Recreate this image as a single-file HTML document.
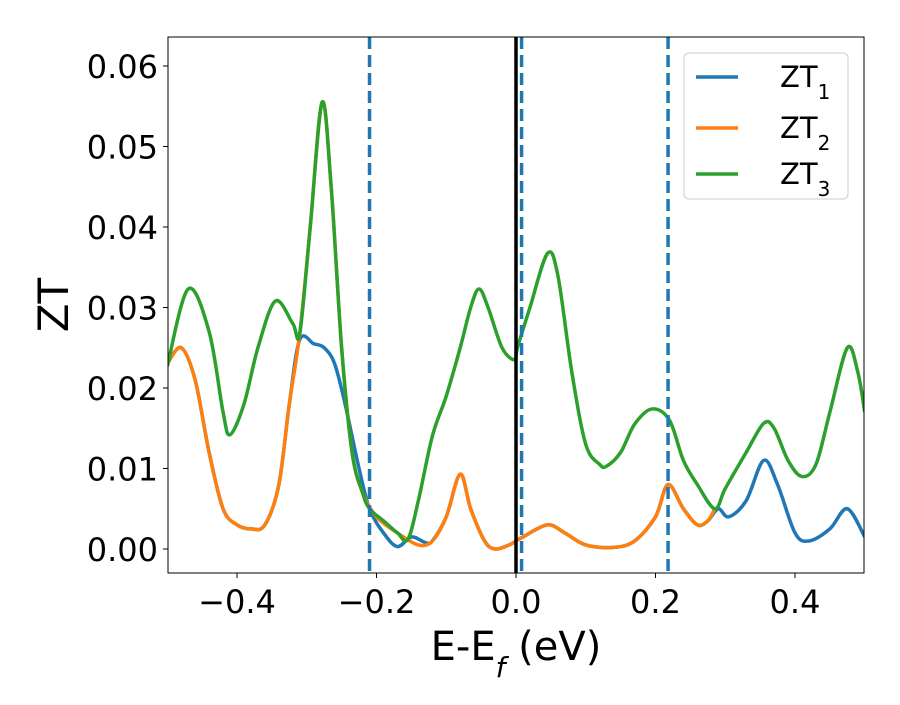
<!DOCTYPE html>
<html><head><meta charset="utf-8"><style>
body{margin:0;background:#fff}
svg text{font-family:"DejaVu Sans","Liberation Sans",sans-serif;fill:#000}
</style></head><body>
<svg id="chart" width="900" height="700">
<rect width="900" height="700" fill="#fff"/>
<g id="plot"></g>
</svg>
<script>
const xTicks=[-0.4,-0.2,0.0,0.2,0.4];
const xTickLabels=["\u22120.4","\u22120.2","0.0","0.2","0.4"];
const yTicks=[0,0.01,0.02,0.03,0.04,0.05,0.06];
const yTickLabels=["0.00","0.01","0.02","0.03","0.04","0.05","0.06"];
const dashedLines=[-0.21,0.008,0.218];
const fermiLine=0;
const ztx1=[-0.5,-0.48,-0.46,-0.44,-0.42,-0.4,-0.38,-0.36,-0.34,-0.325,-0.31,-0.29,-0.275,-0.26,-0.245,-0.225,-0.21,-0.19,-0.17,-0.15,-0.13,-0.12,-0.1,-0.08,-0.065,-0.045,-0.03,-0.01,0,0.01,0.045,0.07,0.1,0.14,0.17,0.2,0.218,0.24,0.26,0.275,0.29,0.305,0.33,0.355,0.375,0.4,0.42,0.45,0.475,0.5];
const zt1=[0.023,0.025,0.021,0.012,0.005,0.003,0.0025,0.003,0.008,0.018,0.026,0.0255,0.025,0.023,0.018,0.01,0.005,0.002,0.0003,0.0015,0.0008,0.001,0.004,0.0093,0.005,0.001,0,0.0005,0.001,0.0015,0.003,0.002,0.0005,0.0002,0.001,0.004,0.008,0.005,0.003,0.0035,0.005,0.004,0.006,0.011,0.008,0.002,0.001,0.0025,0.005,0.0015];
const ztx2=[-0.5,-0.48,-0.46,-0.44,-0.42,-0.4,-0.38,-0.36,-0.34,-0.325,-0.31,-0.295,-0.278,-0.265,-0.25,-0.235,-0.22,-0.2,-0.17,-0.14,-0.12,-0.1,-0.08,-0.065,-0.045,-0.03,-0.01,0,0.01,0.045,0.07,0.1,0.14,0.17,0.2,0.218,0.24,0.26,0.275,0.285];
const zt2=[0.023,0.025,0.021,0.012,0.005,0.003,0.0025,0.003,0.008,0.018,0.0268,0.04,0.0555,0.045,0.025,0.012,0.007,0.004,0.002,0.0005,0.001,0.004,0.0093,0.005,0.001,0,0.0005,0.001,0.0015,0.003,0.002,0.0005,0.0002,0.001,0.004,0.008,0.005,0.003,0.0035,0.005];
const ztx3=[-0.5,-0.47,-0.44,-0.42,-0.41,-0.39,-0.37,-0.345,-0.32,-0.31,-0.295,-0.278,-0.265,-0.25,-0.235,-0.22,-0.21,-0.19,-0.17,-0.155,-0.14,-0.12,-0.1,-0.08,-0.065,-0.053,-0.04,-0.02,-0.002,0.002,0.02,0.045,0.06,0.08,0.1,0.12,0.13,0.15,0.17,0.195,0.22,0.24,0.26,0.285,0.3,0.33,0.355,0.37,0.39,0.41,0.43,0.45,0.475,0.49,0.5];
const zt3=[0.0227,0.0323,0.027,0.017,0.0142,0.018,0.025,0.0308,0.028,0.0268,0.04,0.0555,0.045,0.025,0.012,0.007,0.005,0.0035,0.002,0.0012,0.006,0.014,0.019,0.025,0.030,0.0323,0.030,0.025,0.0235,0.025,0.03,0.0367,0.034,0.022,0.013,0.0105,0.0103,0.012,0.0155,0.0174,0.016,0.011,0.008,0.005,0.0075,0.012,0.0156,0.015,0.011,0.009,0.0105,0.017,0.025,0.022,0.017];
const L=168,R=864,T=37,B=573;
const sx=v=>516+v*697.5;
const sy=v=>549-v*8050;
const NS="http://www.w3.org/2000/svg";
const g=document.getElementById('plot');
function mk(t,a,txt){const e=document.createElementNS(NS,t);for(const k in a)e.setAttribute(k,a[k]);if(txt!==undefined)e.textContent=txt;g.appendChild(e);return e;}
function path(xs,ys){const p=xs.map((x,i)=>[sx(x),sy(ys[i])]);let d="M"+p[0][0]+","+p[0][1];
for(let i=0;i<p.length-1;i++){const p0=p[Math.max(0,i-1)],p1=p[i],p2=p[i+1],p3=p[Math.min(p.length-1,i+2)];
d+=" C"+(p1[0]+(p2[0]-p0[0])/6)+","+(p1[1]+(p2[1]-p0[1])/6)+" "+(p2[0]-(p3[0]-p1[0])/6)+","+(p2[1]-(p3[1]-p1[1])/6)+" "+p2[0]+","+p2[1];}return d;}
const cp=mk('clipPath',{id:'cp'});const cr=document.createElementNS(NS,'rect');cr.setAttribute('x',L);cr.setAttribute('y',T);cr.setAttribute('width',R-L);cr.setAttribute('height',B-T);cp.appendChild(cr);
const s1=mk('path',{d:path(ztx1,zt1),fill:'none',stroke:'#1f77b4','stroke-width':3.5,'clip-path':'url(#cp)'});

const s2=mk('path',{d:path(ztx2,zt2),fill:'none',stroke:'#ff7f0e','stroke-width':3.5,'clip-path':'url(#cp)'});

const s3=mk('path',{d:path(ztx3,zt3),fill:'none',stroke:'#2ca02c','stroke-width':3.5,'clip-path':'url(#cp)'});

dashedLines.forEach(v=>{const l=mk('line',{x1:sx(v),x2:sx(v),y1:T,y2:B,stroke:'#1f77b4','stroke-width':3.5,'stroke-dasharray':'12,6'});
});
const fl=mk('line',{x1:sx(fermiLine),x2:sx(fermiLine),y1:T,y2:B,stroke:'#000','stroke-width':3.5});

const fr=mk('rect',{x:L,y:T,width:R-L,height:B-T,fill:'none',stroke:'#000','stroke-width':1});

xTicks.forEach((v,i)=>{mk('line',{x1:sx(v),x2:sx(v),y1:B,y2:B+5,stroke:'#000'});
const t=mk('text',{x:sx(v),y:B+40,'text-anchor':'middle','font-size':32},xTickLabels[i]);
});
yTicks.forEach((v,i)=>{mk('line',{x1:L-5,x2:L,y1:sy(v),y2:sy(v),stroke:'#000'});
const t=mk('text',{x:L-10,y:sy(v)+12,'text-anchor':'end','font-size':32},yTickLabels[i]);
});
const xt=mk('text',{x:516,y:660,'text-anchor':'middle','font-size':40});
xt.innerHTML='E-E<tspan baseline-shift="sub" font-size="28" font-style="italic">f</tspan> (eV)';

const yt=mk('text',{x:0,y:0,'text-anchor':'middle','font-size':42,transform:'translate(68,305) rotate(-90)'},'ZT');

const lg=mk('rect',{x:684,y:53,width:164,height:146,rx:5,fill:'#fff','fill-opacity':0.8,stroke:'#ccc'});

[['#1f77b4','1',77],['#ff7f0e','2',128],['#2ca02c','3',174]].forEach(([c,n,y])=>{
mk('line',{x1:696,x2:738,y1:y,y2:y,stroke:c,'stroke-width':3.5});
const t=mk('text',{x:780,y:y+10,'font-size':29});t.innerHTML='ZT<tspan baseline-shift="sub" font-size="20">'+n+'</tspan>';
});
</script>
</body></html>
